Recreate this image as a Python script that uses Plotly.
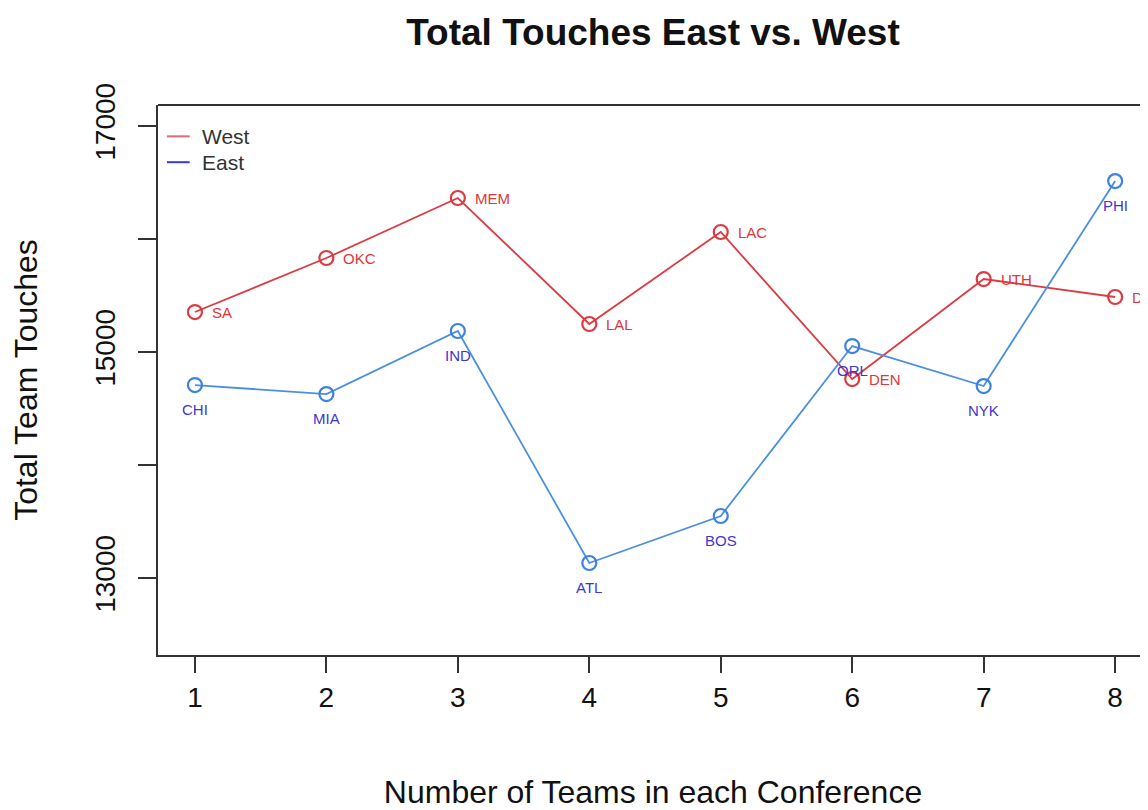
import plotly.graph_objects as go

positions = [1, 2, 3, 4, 5, 6, 7, 8]
west_teams = ["SA", "OKC", "MEM", "LAL", "LAC", "DEN", "UTH", "DAL"]
west_touches = [15354, 15832, 16363, 15248, 16062, 14761, 15646, 15487]
east_teams = ["CHI", "MIA", "IND", "ATL", "BOS", "ORL", "NYK", "PHI"]
east_touches = [14708, 14628, 15186, 13133, 13549, 15053, 14699, 16513]
y_ticks = [13000, 14000, 15000, 16000, 17000]
y_ticklabels = ["13000", "", "15000", "", "17000"]
legend_names = ["West", "East"]

FONT = "Liberation Sans, Arial, Helvetica, sans-serif"
WEST_LINE = "#dc3b42"
EAST_LINE = "#4a8fe0"
WEST_TEXT = "#e0363a"
EAST_TEXT = "#3e36d0"
LEGEND_COLORS = ["#e06a70", "#3a3ad8"]

# body has an 8px margin in the page, so compensate
W, H = 1140, 802

fig = go.Figure()
fig.add_trace(go.Scatter(
    x=positions, y=west_touches, mode="lines+markers",
    line=dict(color=WEST_LINE, width=1.8),
    marker=dict(symbol="circle-open", size=14, color=WEST_LINE, line=dict(width=2.2)),
    showlegend=False,
))
fig.add_trace(go.Scatter(
    x=positions, y=east_touches, mode="lines+markers",
    line=dict(color=EAST_LINE, width=1.8),
    marker=dict(symbol="circle-open", size=14, color="#3d82e3", line=dict(width=2.2)),
    showlegend=False,
))

annotations = []
for xv, yv, t in zip(positions, west_touches, west_teams):
    annotations.append(dict(x=xv, y=yv, text=t, showarrow=False, xanchor="left",
                            yanchor="middle", xshift=15,
                            font=dict(color=WEST_TEXT, size=15, family=FONT)))
for xv, yv, t in zip(positions, east_touches, east_teams):
    annotations.append(dict(x=xv, y=yv, text=t, showarrow=False, xanchor="center",
                            yanchor="middle", yshift=-24,
                            font=dict(color=EAST_TEXT, size=15, family=FONT)))

# manual legend (R style: short line + text, no box)
shapes = []
leg_y = [0.943, 0.896]
for name, col, yy in zip(legend_names, LEGEND_COLORS, leg_y):
    shapes.append(dict(type="line", xref="paper", yref="paper", x0=0.009, x1=0.032,
                       y0=yy, y1=yy, line=dict(color=col, width=2)))
    annotations.append(dict(x=0.042, y=yy, xref="paper", yref="paper", text=name,
                            showarrow=False, xanchor="left", yanchor="middle",
                            font=dict(size=21, color="#333", family=FONT)))
# top border of the box
shapes.append(dict(type="line", xref="paper", yref="paper", x0=0, x1=1, y0=1, y1=1,
                   line=dict(color="#333", width=2)))

fig.update_layout(
    width=W, height=H,
    margin=dict(l=150, r=0, t=97, b=155),
    paper_bgcolor="white", plot_bgcolor="white",
    font=dict(family=FONT, color="#222"),
    title=dict(text="<b>Total Touches East vs. West</b>", x=0.5, xanchor="center",
               xref="paper", y=0.970, yanchor="middle",
               font=dict(size=37, color="#111", family=FONT)),
    showlegend=False,
    annotations=annotations,
    shapes=shapes,
)
fig.update_xaxes(
    range=[0.719, 8.25], tickvals=positions, ticktext=[str(p) for p in positions],
    showgrid=False, zeroline=False, showline=True, linecolor="#333", linewidth=2,
    ticks="outside", ticklen=16, tickwidth=2, tickcolor="#333",
    tickfont=dict(size=28, color="#111"), automargin=False,
    title=dict(text="Number of Teams in each Conference", font=dict(size=32, color="#111"), standoff=78),
)
fig.update_yaxes(
    range=[12319, 17186], tickvals=y_ticks, ticktext=y_ticklabels, tickangle=-90,
    showgrid=False, zeroline=False, showline=True, linecolor="#333", linewidth=2,
    ticks="outside", ticklen=18, tickwidth=2, tickcolor="#333", ticklabelstandoff=12,
    tickfont=dict(size=28, color="#111"), automargin=False,
    title=dict(text="Total Team Touches", font=dict(size=32, color="#111"), standoff=48),
)

fig.write_html("out.html")
